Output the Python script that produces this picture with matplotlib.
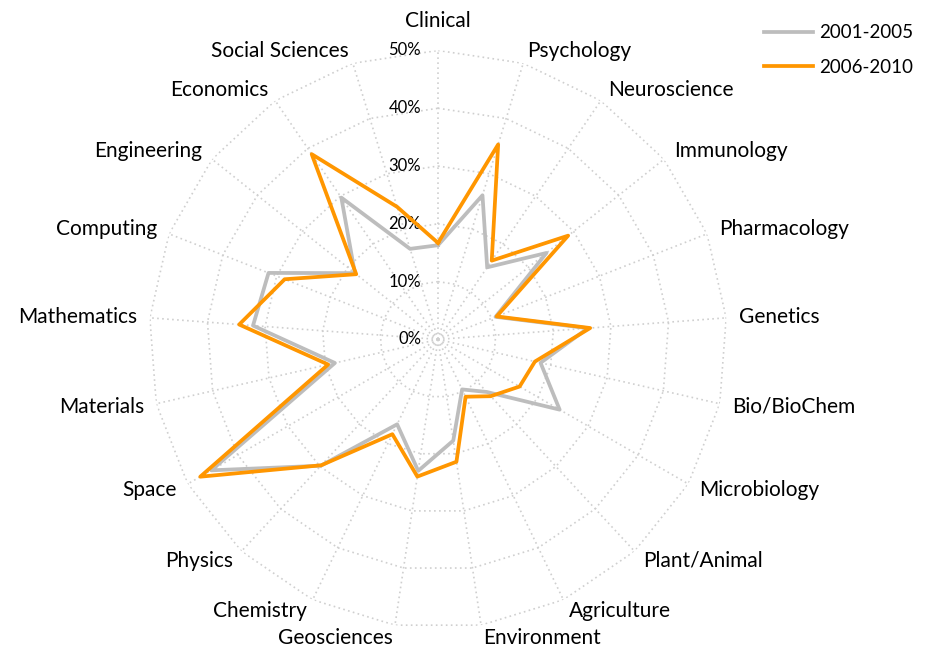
import numpy as np
import matplotlib
matplotlib.use("Agg")
import matplotlib.pyplot as plt

# Categories, clockwise from the top
categories = ["Clinical", "Psychology", "Neuroscience", "Immunology", "Pharmacology",
              "Genetics", "Bio/BioChem", "Microbiology", "Plant/Animal", "Agriculture",
              "Environment", "Geosciences", "Chemistry", "Physics", "Space", "Materials",
              "Mathematics", "Computing", "Engineering", "Economics", "Social Sciences"]

# Share of papers (%) per period
period_2001_2005 = [16.3, 26.1, 15.1, 24.0, 10.7, 26.0, 18.2, 24.3, 12.4, 9.6,
                    17.7, 23.0, 16.3, 29.8, 45.3, 18.3, 32.1, 31.5, 18.4, 29.7, 16.4]
period_2006_2010 = [16.7, 35.3, 16.5, 28.8, 10.9, 26.4, 17.2, 16.3, 13.4, 11.0,
                    21.4, 24.0, 18.2, 29.7, 47.5, 19.5, 34.5, 28.5, 18.1, 38.8, 24.0]

series_names = ["2001-2005", "2006-2010"]
ring_values = [0, 10, 20, 30, 40, 50]

GRAY = "#BDBDBD"
ORANGE = "#FF9600"
GRID = "#CFCFCF"
FONT = "Lato"

n = len(categories)
angles = np.arange(n) * 2 * np.pi / n
closed = np.append(angles, angles[0])

fig = plt.figure(figsize=(9.28, 6.51), dpi=100)
ax = fig.add_axes([0.1606, 0.0346, 0.6228, 0.888], projection="polar")
ax.set_theta_zero_location("N")
ax.set_theta_direction(-1)
ax.set_ylim(0, 50)
ax.grid(False)
ax.spines["polar"].set_visible(False)
ax.set_xticks([])
ax.set_yticks([])
ax.patch.set_alpha(0)

# polygon grid rings and spokes
dots = (0, (1, 2))
for r in ring_values[1:]:
    ax.plot(closed, [r] * (n + 1), color=GRID, lw=1.2, ls=dots, zorder=1)
for a in angles:
    ax.plot([a, a], [0, 50], color=GRID, lw=1.2, ls=dots, zorder=1)

# value axis labels along the first spoke
for r in ring_values:
    ax.annotate(f"{r}%", xy=(0, r), xytext=(-17, 0), textcoords="offset pixels",
                ha="right", va="center", fontsize=12, family=FONT, color="#000000")

# category labels
for a, name in zip(angles, categories):
    s = np.sin(a)
    if abs(s) < 1e-6:
        ax.text(a, 53.3, name, ha="center", va="bottom", fontsize=15, family=FONT)
    else:
        ax.text(a, 52.2, name, ha="left" if s > 0 else "right", va="center",
                fontsize=15, family=FONT)

# data
ax.plot(closed, period_2001_2005 + period_2001_2005[:1], color=GRAY, lw=2.7,
        label=series_names[0], zorder=3)
ax.plot(closed, period_2006_2010 + period_2006_2010[:1], color=ORANGE, lw=2.7,
        label=series_names[1], zorder=4)

fig.legend(loc="upper left", bbox_to_anchor=(0.823, 0.963), frameon=False,
           prop={"family": FONT, "size": 13.5}, handlelength=2.65, handletextpad=0.28,
           labelspacing=0.95, borderpad=0, borderaxespad=0)

fig.savefig("out.png", dpi=100)
